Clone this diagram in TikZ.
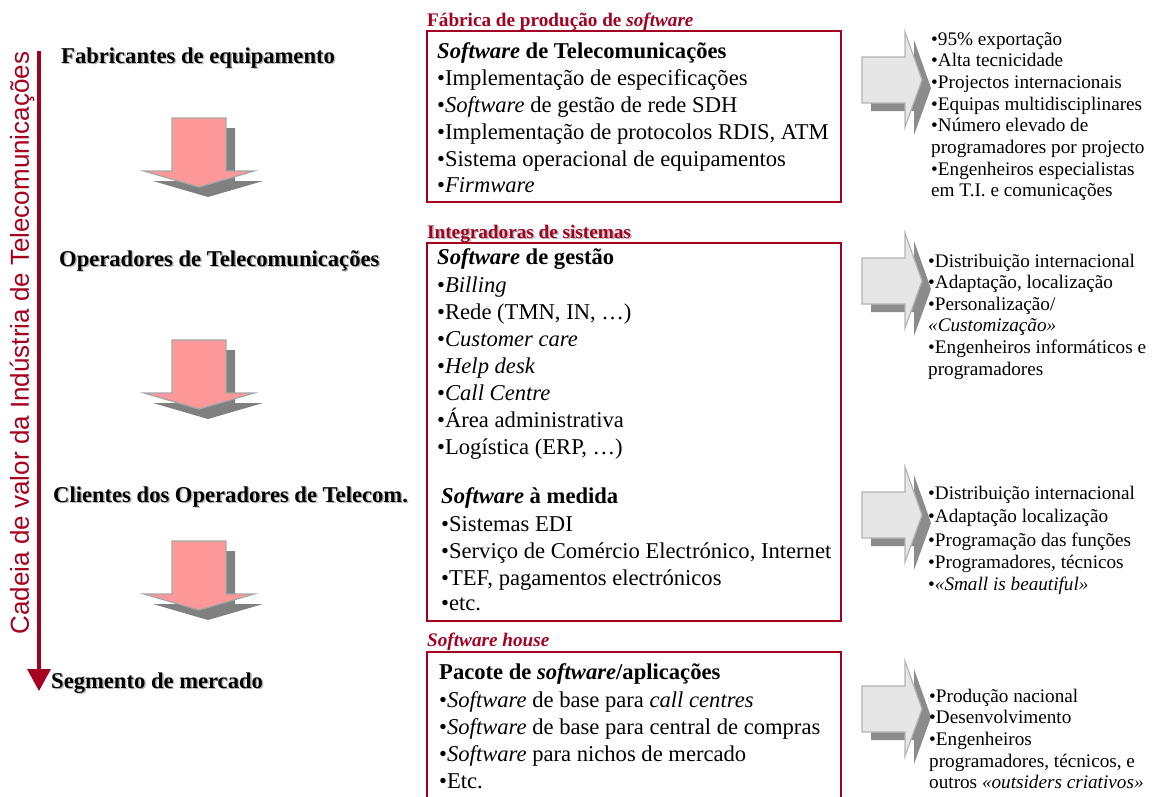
\documentclass[tikz,border=0pt]{standalone}
\usepackage{fontspec}
\setmainfont{Liberation Serif}
\newfontfamily\axisfont{Liberation Sans}
\usetikzlibrary{arrows.meta}
\definecolor{dred}{RGB}{165,0,33}
\definecolor{pinkf}{RGB}{255,153,153}
\definecolor{arrgray}{RGB}{166,166,166}
\definecolor{shgray}{RGB}{128,128,128}
\definecolor{lgray}{RGB}{230,230,230}
\definecolor{mgray}{RGB}{180,180,180}
\definecolor{rshgray}{RGB}{140,140,140}
\definecolor{txtsh}{RGB}{185,185,185}
\begin{document}
\begin{tikzpicture}[x=1pt,y=-1pt,
  lbl/.style={anchor=base west, inner sep=0pt, font=\fontsize{22.6}{27}\selectfont\bfseries},
  lblsh/.style={lbl, text=txtsh},
  ttl/.style={anchor=base west, inner sep=0pt, text=dred, font=\fontsize{19.2}{23}\selectfont\bfseries},
  ttlsh/.style={ttl, text=txtsh},
  itm/.style={anchor=base west, inner sep=0pt, font=\fontsize{22.6}{27}\selectfont},
  hdg/.style={itm, font=\fontsize{22.6}{27}\selectfont\bfseries},
  rtx/.style={anchor=base west, inner sep=0pt, font=\fontsize{19.2}{23}\selectfont},
  redbox/.style={draw=dred, line width=2.2pt},
  downarr/.pic={
    \fill[shgray] (-18,10) -- (36,10) -- (36,63) -- (64,63) -- (9,79) -- (-46,63) -- (-18,63) -- cycle;
    \filldraw[fill=pinkf, draw=arrgray, line width=1.3pt] (-27,0) -- (27,0) -- (27,53) -- (55,53) -- (0,69) -- (-55,53) -- (-27,53) -- cycle;
  },
  rarr/.pic={
    \fill[rshgray] (9,-15) -- (52,-15) -- (52,-40) -- (69,8) -- (52,55) -- (52,31) -- (9,31) -- cycle;
    \filldraw[fill=lgray, draw=mgray, line width=1.2pt] (0,-23) -- (43,-23) -- (43,-48) -- (60,0) -- (43,47) -- (43,23) -- (0,23) -- cycle;
  }
]
\useasboundingbox (0,0) rectangle (1153,796);
\clip (0,0) rectangle (1153,796);
\fill[white] (0,0) rectangle (1153,796);

% value chain axis
\coordinate (axtop) at (39,51);
\coordinate (axend) at (39,691);
\draw[dred, line width=3.5pt, -{Triangle[width=23pt,length=22pt]}] (axtop) -- (axend);
\node[rotate=90, text=dred, inner sep=0pt, font=\axisfont\fontsize{26}{31}\selectfont] (axis) at (22,343) {Cadeia de valor da Indústria de Telecomunicações};

% left labels (with soft shadow)
\node[lblsh] (l1s) at (62.5,64.5) {Fabricantes de equipamento};
\node[lblsh] (l2s) at (60.5,267.5) {Operadores de Telecomunicações};
\node[lblsh] (l3s) at (54.5,503.5) {Clientes dos Operadores de Telecom.};
\node[lblsh] (l4s) at (52.5,689.5) {Segmento de mercado};
\node[lbl] (l1) at (61,63) {Fabricantes de equipamento};
\node[lbl] (l2) at (59,266) {Operadores de Telecomunicações};
\node[lbl] (l3) at (53,502) {Clientes dos Operadores de Telecom.};
\node[lbl] (l4) at (51,688) {Segmento de mercado};

% down arrows
\pic (d1) at (199,118) {downarr};
\pic (d2) at (199,340) {downarr};
\pic (d3) at (199,541) {downarr};

% box 1
\node[ttl] (t1) at (427,26) {Fábrica de produção de \textit{software}};
\draw[redbox] (427,31) rectangle (841,202);
\node[hdg] (b1h) at (437,58) {\textit{Software} de Telecomunicações};
\node[itm] (b1a) at (437,85) {•Implementação de especificações};
\node[itm] (b1b) at (437,112) {•\textit{Software} de gestão de rede SDH};
\node[itm] (b1c) at (437,139) {•Implementação de protocolos RDIS, ATM};
\node[itm] (b1d) at (437,166) {•Sistema operacional de equipamentos};
\node[itm] (b1e) at (437,192) {•\textit{Firmware}};

% box 2
\node[ttlsh] (t2s) at (428.5,239.5) {Integradoras de sistemas};
\node[ttl] (t2) at (427,238) {Integradoras de sistemas};
\draw[redbox] (427,243) rectangle (841,621);
\node[hdg] (b2h) at (437,264) {\textit{Software} de gestão};
\node[itm] (b2a) at (437,292) {•\textit{Billing}};
\node[itm] (b2b) at (437,319) {•Rede (TMN, IN, …)};
\node[itm] (b2c) at (437,346) {•\textit{Customer care}};
\node[itm] (b2d) at (437,373) {•\textit{Help desk}};
\node[itm] (b2e) at (437,400) {•\textit{Call Centre}};
\node[itm] (b2f) at (437,427) {•Área administrativa};
\node[itm] (b2g) at (437,454) {•Logística (ERP, …)};
\node[hdg] (b2k) at (441,503) {\textit{Software} à medida};
\node[itm] (b2l) at (441,531) {•Sistemas EDI};
\node[itm] (b2m) at (441,558) {•Serviço de Comércio Electrónico, Internet};
\node[itm] (b2n) at (441,585) {•TEF, pagamentos electrónicos};
\node[itm] (b2o) at (441,610) {•etc.};

% box 3
\node[ttl] (t3) at (427,646) {\textit{Software house}};
\draw[redbox] (427,810) -- (427,652) -- (841,652) -- (841,810);
\node[hdg] (b3h) at (439,679) {Pacote de \textit{software}/aplicações};
\node[itm] (b3a) at (439,707) {•\textit{Software} de base para \textit{call centres}};
\node[itm] (b3b) at (439,734) {•\textit{Software} de base para central de compras};
\node[itm] (b3c) at (439,761) {•\textit{Software} para nichos de mercado};
\node[itm] (b3d) at (439,788) {•Etc.};

% right arrows
\pic (r1) at (862,80) {rarr};
\pic (r2) at (862,281) {rarr};
\pic (r3) at (862,515) {rarr};
\pic (r4) at (862,709) {rarr};

% right texts
\node[rtx] (r1a) at (931,45) {•95\% exportação};
\node[rtx] (r1b) at (931,66.7) {•Alta tecnicidade};
\node[rtx] (r1c) at (931,88.4) {•Projectos internacionais};
\node[rtx] (r1d) at (931,110.1) {•Equipas multidisciplinares};
\node[rtx] (r1e) at (931,131.8) {•Número elevado de};
\node[rtx] (r1f) at (931,153.5) {programadores por projecto};
\node[rtx] (r1g) at (931,175.2) {•Engenheiros especialistas};
\node[rtx] (r1h) at (931,196.9) {em T.I. e comunicações};

\node[rtx] (r2a) at (928,267) {•Distribuição internacional};
\node[rtx] (r2b) at (928,288.6) {•Adaptação, localização};
\node[rtx] (r2c) at (928,310.2) {•Personalização/};
\node[rtx] (r2d) at (928,331.8) {\textit{«Customização»}};
\node[rtx] (r2e) at (928,353.4) {•Engenheiros informáticos e};
\node[rtx] (r2f) at (928,375) {programadores};

\node[rtx] (r3a) at (928,499) {•Distribuição internacional};
\node[rtx] (r3b) at (928,522) {•Adaptação localização};
\node[rtx] (r3c) at (928,546) {•Programação das funções};
\node[rtx] (r3d) at (928,568) {•Programadores, técnicos};
\node[rtx] (r3e) at (928,590) {•\textit{«Small is beautiful»}};

\node[rtx] (r4a) at (929,702) {•Produção nacional};
\node[rtx] (r4b) at (929,723.7) {•Desenvolvimento};
\node[rtx] (r4c) at (929,745.4) {•Engenheiros};
\node[rtx] (r4d) at (929,767.1) {programadores, técnicos, e};
\node[rtx] (r4e) at (929,788.8) {outros \textit{«outsiders criativos»}};
\end{tikzpicture}
\end{document}
